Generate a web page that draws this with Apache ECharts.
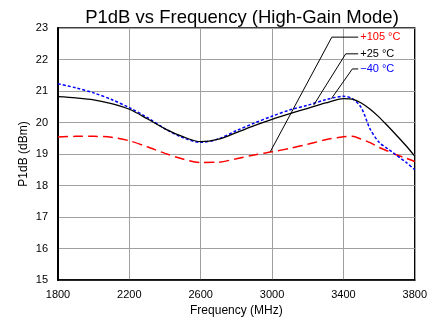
<!DOCTYPE html>
<html><head><meta charset="utf-8">
<script src="https://cdn.jsdelivr.net/npm/echarts@6/dist/echarts.min.js"></script>
<style>html,body{margin:0;padding:0;background:#fff}#c{width:430px;height:322px}</style>
</head><body><div id="c"></div>
<script>
var freq = [1800,1900,2000,2100,2200,2300,2400,2500,2600,2700,2800,2900,3000,3100,3200,3300,3400,3450,3500,3550,3600,3650,3700,3750,3800];
var p25 = [20.82,20.78,20.72,20.60,20.42,20.12,19.80,19.55,19.39,19.47,19.68,19.90,20.10,20.28,20.45,20.62,20.76,20.74,20.62,20.42,20.17,19.88,19.58,19.27,18.93];
var m40 = [21.23,21.10,20.94,20.73,20.47,20.16,19.80,19.52,19.37,19.48,19.74,19.98,20.20,20.40,20.55,20.72,20.83,20.76,20.47,19.79,19.37,19.16,18.95,18.74,18.50];
var p105 = [19.54,19.56,19.56,19.53,19.42,19.23,19.02,18.84,18.73,18.74,18.85,18.97,19.07,19.18,19.31,19.45,19.55,19.56,19.47,19.36,19.21,19.09,18.97,18.87,18.76];
var labels = ['+105 °C', '+25 °C', '\u221240 °C'];
var labelColors = ['#ff0000', '#000000', '#0000ff'];
var leaderX = [[2990, 3335, 3483], [3233, 3413, 3483], [3333, 3450, 3483]];
var leaderY = [[19.07, 22.71, 22.71], [20.55, 22.18, 22.18], [20.76, 21.70, 21.70]];
var xTicks = [1800, 2200, 2600, 3000, 3400, 3800];

function zip(a, b) { return a.map(function (v, i) { return [v, b[i]]; }); }
var chart = echarts.init(document.getElementById('c'), null, {renderer: 'canvas'});
var FONT = 'Liberation Sans, Arial, sans-serif';
var series = [
  {type: 'line', name: '+105', data: zip(freq, p105), smooth: 0.3, symbol: 'none',
   lineStyle: {color: '#ff0000', width: 1.5, type: [10, 5]}},
  {type: 'line', name: '-40', data: zip(freq, m40), smooth: 0.3, symbol: 'none',
   lineStyle: {color: '#0000ff', width: 1.5, type: [3, 2]}},
  {type: 'line', name: '+25', data: zip(freq, p25), smooth: 0.3, symbol: 'none',
   lineStyle: {color: '#000000', width: 1.3}}
];
labels.forEach(function (lab, i) {
  series.push({type: 'line', name: lab, data: zip(leaderX[i], leaderY[i]), symbol: 'none', silent: true,
    lineStyle: {color: '#000', width: 1},
    endLabel: {show: true, formatter: lab, color: labelColors[i], fontSize: 11, fontFamily: FONT, distance: 2}});
});
chart.setOption({
  animation: false,
  title: {text: 'P1dB vs Frequency (High-Gain Mode)', left: 237, textAlign: 'center', top: 3,
    textStyle: {fontSize: 18.5, fontWeight: 'normal', color: '#000', fontFamily: FONT}},
  grid: {left: 58, right: 12, top: 28, bottom: 40, show: true, borderColor: '#000', borderWidth: 1.5, backgroundColor: 'transparent'},
  xAxis: {type: 'value', min: 1800, max: 3800, interval: 400,
    name: 'Frequency (MHz)', nameLocation: 'middle', nameGap: 25, nameMoveOverlap: false,
    nameTextStyle: {fontSize: 12, color: '#000', fontFamily: FONT},
    axisLine: {show: true, lineStyle: {color: '#000', width: 1.5}}, axisTick: {show: false},
    axisLabel: {fontSize: 11, color: '#000', fontFamily: FONT, margin: 9,
      formatter: function (v) { return xTicks.indexOf(v) >= 0 ? String(v) : ''; }},
    splitLine: {show: true, lineStyle: {color: '#a0a0a0', width: 1}}},
  yAxis: {type: 'value', min: 15, max: 23, interval: 1,
    name: 'P1dB (dBm)', nameLocation: 'middle', nameGap: 28, nameMoveOverlap: false,
    nameTextStyle: {fontSize: 12, color: '#000', fontFamily: FONT},
    axisLine: {show: true, lineStyle: {color: '#000', width: 2}}, axisTick: {show: false},
    axisLabel: {fontSize: 11, color: '#000', fontFamily: FONT, margin: 10},
    splitLine: {show: true, lineStyle: {color: '#a0a0a0', width: 1}}},
  series: series
});
</script></body></html>
